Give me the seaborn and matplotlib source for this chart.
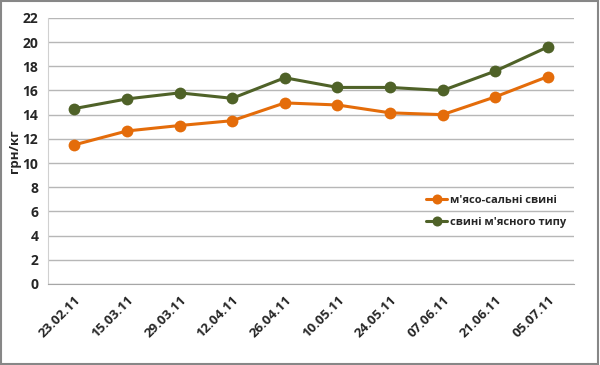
import matplotlib
matplotlib.use("Agg")
import matplotlib.pyplot as plt
import seaborn as sns
import pandas as pd

dates = ["23.02.11", "15.03.11", "29.03.11", "12.04.11", "26.04.11",
         "10.05.11", "24.05.11", "07.06.11", "21.06.11", "05.07.11"]
meat_fat = [11.5, 12.65, 13.1, 13.5, 14.97, 14.8, 14.15, 14.0, 15.47, 17.15]
meat_type = [14.5, 15.3, 15.8, 15.35, 17.05, 16.25, 16.25, 16.0, 17.6, 19.6]
series_names = ["м'ясо-сальні свині", "свині м'ясного типу"]
colors = ["#E46C0A", "#4F6228"]

df = pd.DataFrame({"date": dates * 2,
                   "value": meat_fat + meat_type,
                   "series": [series_names[0]] * len(dates) + [series_names[1]] * len(dates)})
df["x"] = list(range(len(dates))) * 2

sns.set_style("white")
plt.rcParams["font.family"] = ["Open Sans", "DejaVu Sans"]

fig = plt.figure(figsize=(6, 3.65), dpi=100)
ax = fig.add_axes([0.08, 0.222, 0.877, 0.729])

sns.lineplot(data=df, x="x", y="value", hue="series", palette=colors,
             marker="o", markersize=8.5, markeredgewidth=0, linewidth=2.2, ax=ax)

ax.set_xlim(-0.5, len(dates) - 0.5)
ax.set_ylim(0, 22)
ax.set_yticks(range(0, 23, 2))
ax.set_xticks(range(len(dates)))
ax.set_xticklabels(dates, rotation=45, ha="right", rotation_mode="anchor",
                   fontsize=9.5, fontweight="bold")
for lbl in ax.get_yticklabels():
    lbl.set_fontsize(10)
    lbl.set_fontweight("bold")
ax.tick_params(axis="y", length=4, color="#BFBFBF", pad=3)
ax.tick_params(axis="x", length=0, pad=7)
ax.grid(axis="y", color="#B7B7B7", linewidth=1)
ax.set_axisbelow(True)
for s in ["top", "right"]:
    ax.spines[s].set_visible(False)
ax.spines["left"].set_color("#D0D0D0")
ax.spines["bottom"].set_color("#A6A6A6")
ax.set_xlabel("")
ax.set_ylabel("грн/кг", fontsize=9.5, fontweight="bold", labelpad=1)

leg = ax.legend(loc="center left", bbox_to_anchor=(0.70, 0.272), frameon=False,
                prop={"size": 8, "weight": "bold"}, handlelength=1.9,
                handletextpad=0.2, labelspacing=1.0, markerscale=0.85)

fig.patches.append(plt.Rectangle((0.002, 0.003), 0.994, 0.994, transform=fig.transFigure,
                                 fill=False, edgecolor="#878787", linewidth=1.5))
fig.savefig("out.png", dpi=100)
